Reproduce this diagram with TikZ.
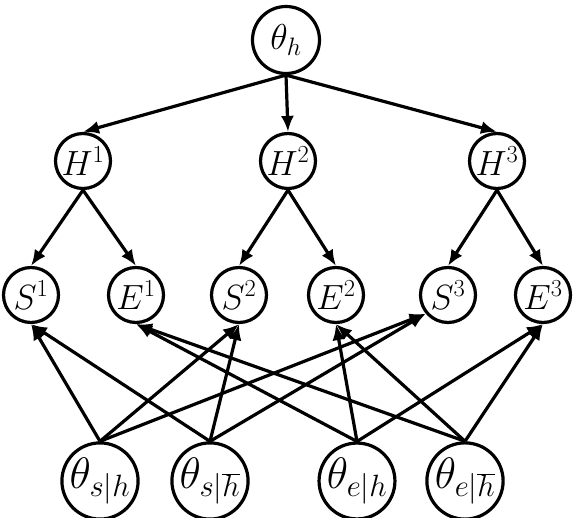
\RequirePackage{fix-cm}
\documentclass[tikz,border=0pt]{standalone}
\usetikzlibrary{arrows.meta}
\begin{document}
\begin{tikzpicture}[x=1pt,y=-1pt,
  nd/.style={circle,draw,line width=3.2pt,minimum size=55pt,inner sep=0pt,font=\fontsize{35}{40}\selectfont},
  topnd/.style={nd,minimum size=67pt,font=\fontsize{36}{42}\selectfont},
  botnd/.style={nd,minimum size=70pt,font=\fontsize{44}{50}\selectfont},
  edge/.style={line width=3.2pt,-{Latex[length=16pt,width=13pt]}}]
\useasboundingbox (0,0) rectangle (574,518);
\node[topnd] (th) at (286,40) {$\theta_h$};
\node[nd] (H1) at (83,161) {$H^1$};
\node[nd] (H2) at (288,161) {$H^2$};
\node[nd] (H3) at (497,161) {$H^3$};
\node[nd] (S1) at (31,295) {$S^1$};
\node[nd] (E1) at (136,295) {$E^1$};
\node[nd] (S2) at (239,295) {$S^2$};
\node[nd] (E2) at (336,295) {$E^2$};
\node[nd] (S3) at (448,295) {$S^3$};
\node[nd] (E3) at (543,295) {$E^3$};
\node[botnd] (tsh) at (100,481) {$\theta_{s|h}$};
\node[botnd] (tsb) at (210,481) {$\theta_{s|\overline{h}}$};
\node[botnd] (teh) at (357,481) {$\theta_{e|h}$};
\node[botnd] (teb) at (465,481) {$\theta_{e|\overline{h}}$};
\foreach \h in {H1,H2,H3} \draw[edge] (th.south) -- (\h.north);
\draw[edge] (H1.south) -- (S1.north);
\draw[edge] (H1.south) -- (E1.north);
\draw[edge] (H2.south) -- (S2.north);
\draw[edge] (H2.south) -- (E2.north);
\draw[edge] (H3.south) -- (S3.north);
\draw[edge] (H3.south) -- (E3.north);
\foreach \t in {tsh,tsb} {
  \draw[edge] (\t.north) -- (S1.south);
  \draw[edge] (\t.north) -- (S2.south);
  \draw[edge] (\t.north) -- (S3.220);
}
\foreach \t in {teh,teb} {
  \draw[edge] (\t.north) -- (E1.south);
  \draw[edge] (\t.north) -- (E2.south);
  \draw[edge] (\t.north) -- (E3.south);
}
\end{tikzpicture}
\end{document}
